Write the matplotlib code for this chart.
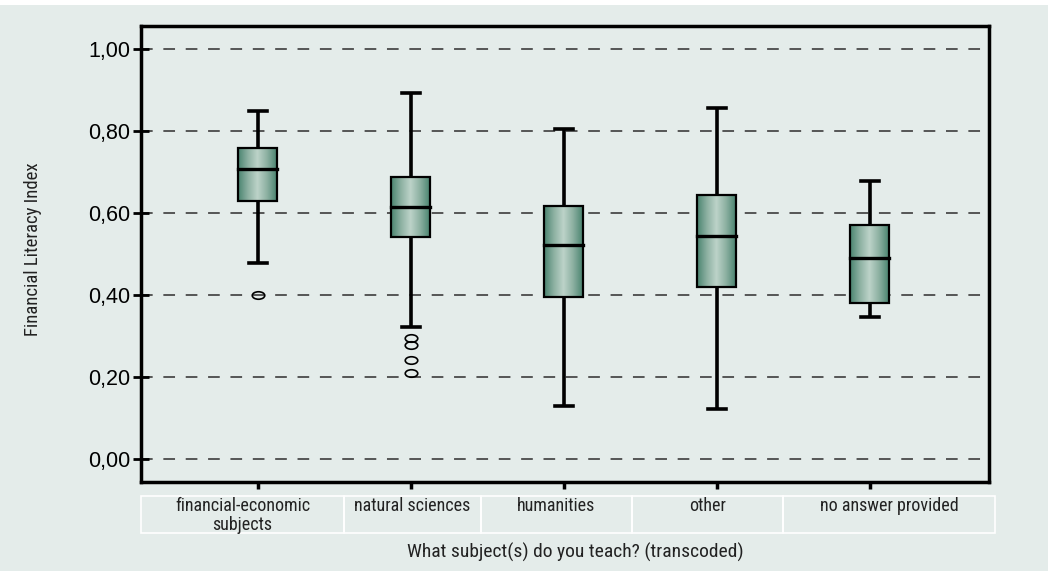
import numpy as np
import matplotlib.pyplot as plt
from matplotlib.path import Path
from matplotlib.patches import Rectangle
from matplotlib.colors import LinearSegmentedColormap

# five-number summaries per subject group (whisker low, Q1, median, Q3, whisker high)
subjects = ["financial-economic\nsubjects", "natural sciences", "humanities", "other", "no answer provided"]
whisker_low = [0.478, 0.322, 0.129, 0.122, 0.346]
q1 = [0.629, 0.541, 0.395, 0.420, 0.380]
median = [0.707, 0.615, 0.522, 0.544, 0.490]
q3 = [0.759, 0.688, 0.617, 0.644, 0.571]
whisker_high = [0.849, 0.893, 0.805, 0.856, 0.678]
outliers = [[0.400], [0.295, 0.278, 0.241, 0.210], [], [], []]
yticks = [0.0, 0.2, 0.4, 0.6, 0.8, 1.0]
ytick_labels = ["0,00", "0,20", "0,40", "0,60", "0,80", "1,00"]

bg = "#e4ecea"
narrow = ["Roboto Condensed", "DejaVu Sans"]

fig = plt.figure(figsize=(10.48, 5.71), dpi=100, facecolor="white")
fig.patches.append(Rectangle((0, 0), 1, 1 - 5 / 571, transform=fig.transFigure,
                             facecolor=bg, edgecolor="none", zorder=-10))
ax = fig.add_axes([141 / 1048, 1 - 482 / 571, 848 / 1048, 456 / 571])
ax.set_facecolor(bg)

x = np.arange(len(subjects))
ax.set_xlim(-0.765, 4.78)
ax.set_ylim(-0.056, 1.056)

for y in yticks:
    ax.axhline(y, color="#555555", lw=1.4, ls=(0, (6, 5.5)), zorder=1)

cmap = LinearSegmentedColormap.from_list("boxfill", ["#4a8470", "#8cb0a1", "#bdd3c9", "#8cb0a1", "#4a8470"])
grad = np.linspace(0, 1, 200).reshape(1, -1)
bw = 0.255
cap = 0.059
for i in range(len(subjects)):
    xc = x[i]
    ax.plot([xc, xc], [whisker_low[i], q1[i]], color="black", lw=2.6, zorder=3, solid_capstyle="butt")
    ax.plot([xc, xc], [q3[i], whisker_high[i]], color="black", lw=2.6, zorder=3, solid_capstyle="butt")
    ax.plot([xc - cap, xc + cap], [whisker_low[i]] * 2, color="black", lw=2.6, zorder=3)
    ax.plot([xc - cap, xc + cap], [whisker_high[i]] * 2, color="black", lw=2.6, zorder=3)
    ax.imshow(grad, cmap=cmap, aspect="auto", zorder=4,
              extent=[xc - bw / 2, xc + bw / 2, q1[i], q3[i]])
    ax.add_patch(Rectangle((xc - bw / 2, q1[i]), bw, q3[i] - q1[i], facecolor="none",
                           edgecolor="black", lw=1.6, zorder=5))
    ax.plot([xc - bw / 2, xc + bw / 2], [median[i]] * 2, color="black", lw=2.4, zorder=6)

# flattened circle for outliers
circ = Path.unit_circle()
oval = Path(circ.vertices * np.array([1.0, 0.6]), circ.codes)
for i, pts in enumerate(outliers):
    if pts:
        ax.plot([x[i]] * len(pts), pts, ls="none", marker=oval, ms=9, mfc="none",
                mec="black", mew=1.2, zorder=6)

ax.set_xticks(x)
ax.set_xticklabels([])
ax.tick_params(axis="x", direction="out", length=5, width=2.5, color="black")
ax.set_yticks(yticks)
ax.set_yticklabels(ytick_labels, fontsize=15.5, family="Liberation Sans")
ax.tick_params(axis="y", direction="inout", length=12, width=2, pad=2)
for s in ax.spines.values():
    s.set_linewidth(2.5)

# category cells under the axis
cells = [141, 344, 481, 632, 783, 995]
for i, lab in enumerate(subjects):
    x0 = cells[i] / 1048
    x1 = cells[i + 1] / 1048
    fig.patches.append(Rectangle((x0, 1 - 533 / 571), x1 - x0, 37 / 571, transform=fig.transFigure,
                                 facecolor="none", edgecolor="white", lw=1.2))
    fig.text((x0 + x1) / 2, 1 - 497 / 571, lab, ha="center", va="top", fontsize=13,
             family=narrow, color="#222222", linespacing=1.1)

fig.text(575 / 1048, 1 - 552 / 571, "What subject(s) do you teach? (transcoded)", ha="center",
         va="center", fontsize=14, family=narrow, color="#222222")
fig.text(33 / 1048, 1 - 249 / 571, "Financial Literacy Index", ha="center", va="center",
         rotation=90, fontsize=13.5, family=narrow, color="#222222")

fig.savefig("out.png", dpi=100, facecolor=fig.get_facecolor())
